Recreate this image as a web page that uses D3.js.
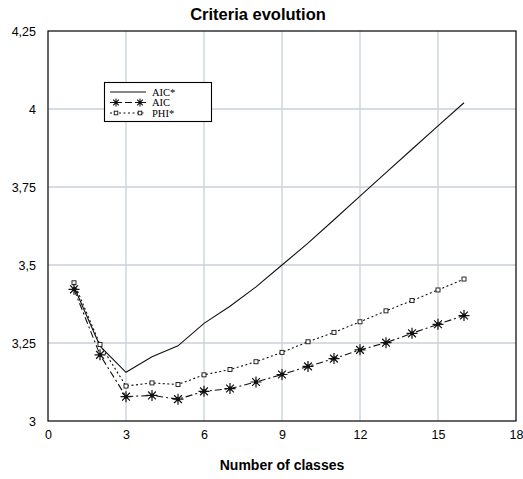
<!DOCTYPE html>
<html>
<head>
<meta charset="utf-8">
<script src="https://cdn.jsdelivr.net/npm/d3@7"></script>
<style>
  body { margin: 0; background: #fff; }
  svg { display: block; }
</style>
</head>
<body>
<div id="container"></div>
<script>
/* DATA */
const classes = [1, 2, 3, 4, 5, 6, 7, 8, 9, 10, 11, 12, 13, 14, 15, 16];
const aicStar = [3.43, 3.24, 3.156, 3.206, 3.241, 3.313, 3.368, 3.43, 3.50, 3.57, 3.645, 3.721, 3.796, 3.871, 3.946, 4.02];
const aic = [3.422, 3.212, 3.078, 3.082, 3.07, 3.095, 3.104, 3.125, 3.149, 3.175, 3.2, 3.228, 3.251, 3.281, 3.31, 3.338];
const phiStar = [3.443, 3.245, 3.112, 3.122, 3.117, 3.148, 3.165, 3.19, 3.22, 3.254, 3.284, 3.318, 3.353, 3.386, 3.42, 3.455];
const xTicks = [0, 3, 6, 9, 12, 15, 18];
const yTicks = [3, 3.25, 3.5, 3.75, 4, 4.25];
const legendNames = ["AIC*", "AIC", "PHI*"];

/* CONSTANTS */
const width = 523, height = 479;
const margin = { top: 31, right: 7, bottom: 58, left: 48 };
const innerW = width - margin.left - margin.right,
      innerH = height - margin.top - margin.bottom;

const svg = d3.select("#container")
  .append("svg")
  .attr("width", width)
  .attr("height", height);

const g = svg.append("g")
  .attr("transform", `translate(${margin.left}, ${margin.top})`);

// scales
const x = d3.scaleLinear().domain([0, 18]).range([0, innerW]);
const y = d3.scaleLinear().domain([3, 4.25]).range([innerH, 0]);

// grid lines
g.append("g")
  .selectAll("line")
  .data(xTicks.slice(1, -1))
  .join("line")
  .attr("x1", d => x(d)).attr("x2", d => x(d))
  .attr("y1", 0).attr("y2", innerH)
  .attr("stroke", "#c9d1d8")
  .attr("stroke-width", 1.3);

g.append("g")
  .selectAll("line")
  .data(yTicks.slice(1, -1))
  .join("line")
  .attr("x1", 0).attr("x2", innerW)
  .attr("y1", d => y(d)).attr("y2", d => y(d))
  .attr("stroke", "#c9d1d8")
  .attr("stroke-width", 1.3);

// axes (labels only, no tick marks)
const fmt = d => String(d).replace(".", ",");

const xAxis = g.append("g")
  .attr("transform", `translate(0, ${innerH})`)
  .call(d3.axisBottom(x).tickValues(xTicks).tickSize(0).tickPadding(9).tickFormat(fmt));
xAxis.select(".domain").remove();
xAxis.selectAll("text")
  .attr("font-family", "Liberation Sans, Arial, sans-serif")
  .attr("font-size", 12.5)
  .attr("fill", "#000");

const yAxis = g.append("g")
  .call(d3.axisLeft(y).tickValues(yTicks).tickSize(0).tickPadding(12).tickFormat(fmt));
yAxis.select(".domain").remove();
yAxis.selectAll("text")
  .attr("font-family", "Liberation Sans, Arial, sans-serif")
  .attr("font-size", 12.5)
  .attr("fill", "#000");

// frame
g.append("rect")
  .attr("width", innerW)
  .attr("height", innerH)
  .attr("fill", "none")
  .attr("stroke", "#000")
  .attr("stroke-width", 1.2);

// title + axis label
svg.append("text")
  .attr("x", 258)
  .attr("y", 20)
  .attr("text-anchor", "middle")
  .attr("font-family", "Liberation Sans, Arial, sans-serif")
  .attr("font-weight", "bold")
  .attr("font-size", 16.5)
  .text("Criteria evolution");

svg.append("text")
  .attr("x", margin.left + innerW / 2)
  .attr("y", 470)
  .attr("text-anchor", "middle")
  .attr("font-family", "Liberation Sans, Arial, sans-serif")
  .attr("font-weight", "bold")
  .attr("font-size", 14)
  .text("Number of classes");

// line generator
function lineFor(vals) {
  return d3.line()
    .x((d, i) => x(classes[i]))
    .y(d => y(d))(vals);
}

// star marker path (8 spokes)
function starPath(cx, cy, r) {
  let p = "";
  for (let k = 0; k < 4; k++) {
    const a = k * Math.PI / 4;
    const dx = r * Math.cos(a), dy = r * Math.sin(a);
    p += `M${cx - dx},${cy - dy}L${cx + dx},${cy + dy}`;
  }
  return p;
}

// AIC* solid line
g.append("path")
  .attr("d", lineFor(aicStar))
  .attr("fill", "none")
  .attr("stroke", "#111")
  .attr("stroke-width", 1.1);

// PHI* dotted line with open squares
g.append("path")
  .attr("d", lineFor(phiStar))
  .attr("fill", "none")
  .attr("stroke", "#111")
  .attr("stroke-width", 1.1)
  .attr("stroke-dasharray", "2,2.5");

g.selectAll(".phi-pt")
  .data(phiStar)
  .join("rect")
  .attr("class", "phi-pt")
  .attr("x", (d, i) => x(classes[i]) - 2)
  .attr("y", d => y(d) - 2)
  .attr("width", 4)
  .attr("height", 4)
  .attr("fill", "#fff")
  .attr("stroke", "#111")
  .attr("stroke-width", 0.9);

// AIC dash-dot line with stars
g.append("path")
  .attr("d", lineFor(aic))
  .attr("fill", "none")
  .attr("stroke", "#111")
  .attr("stroke-width", 1.1)
  .attr("stroke-dasharray", "7,3,2,3");

g.selectAll(".aic-pt")
  .data(aic)
  .join("path")
  .attr("class", "aic-pt")
  .attr("d", (d, i) => starPath(x(classes[i]), y(d), 5.5))
  .attr("stroke", "#111")
  .attr("stroke-width", 1.2);

g.selectAll(".aic-dot")
  .data(aic)
  .join("circle")
  .attr("class", "aic-dot")
  .attr("cx", (d, i) => x(classes[i]))
  .attr("cy", d => y(d))
  .attr("r", 2)
  .attr("fill", "#111");

/* LEGEND */
const legend = svg.append("g");
legend.append("rect")
  .attr("x", 104.5).attr("y", 82.5)
  .attr("width", 107).attr("height", 39)
  .attr("fill", "#fff")
  .attr("stroke", "#000")
  .attr("stroke-width", 1.1);

const rowY = [92, 102.5, 113];
const dashes = [null, "7,3,2,3", "2,2.5"];
legendNames.forEach((name, i) => {
  legend.append("line")
    .attr("x1", 110).attr("x2", 146)
    .attr("y1", rowY[i]).attr("y2", rowY[i])
    .attr("stroke", "#111")
    .attr("stroke-width", 1.1)
    .attr("stroke-dasharray", dashes[i]);
  legend.append("text")
    .attr("x", 152)
    .attr("y", rowY[i] + 3.5)
    .attr("font-family", "Liberation Serif, Times New Roman, serif")
    .attr("font-size", 10.5)
    .text(name);
});
// legend markers
[116, 140].forEach(cx => {
  legend.append("path")
    .attr("d", starPath(cx, rowY[1], 4))
    .attr("stroke", "#111")
    .attr("stroke-width", 1.1);
  legend.append("circle")
    .attr("cx", cx).attr("cy", rowY[1]).attr("r", 1.5).attr("fill", "#111");
  legend.append("rect")
    .attr("x", cx - 1.8).attr("y", rowY[2] - 1.8)
    .attr("width", 3.6).attr("height", 3.6)
    .attr("fill", "#fff").attr("stroke", "#111").attr("stroke-width", 0.9);
});
</script>
</body>
</html>
